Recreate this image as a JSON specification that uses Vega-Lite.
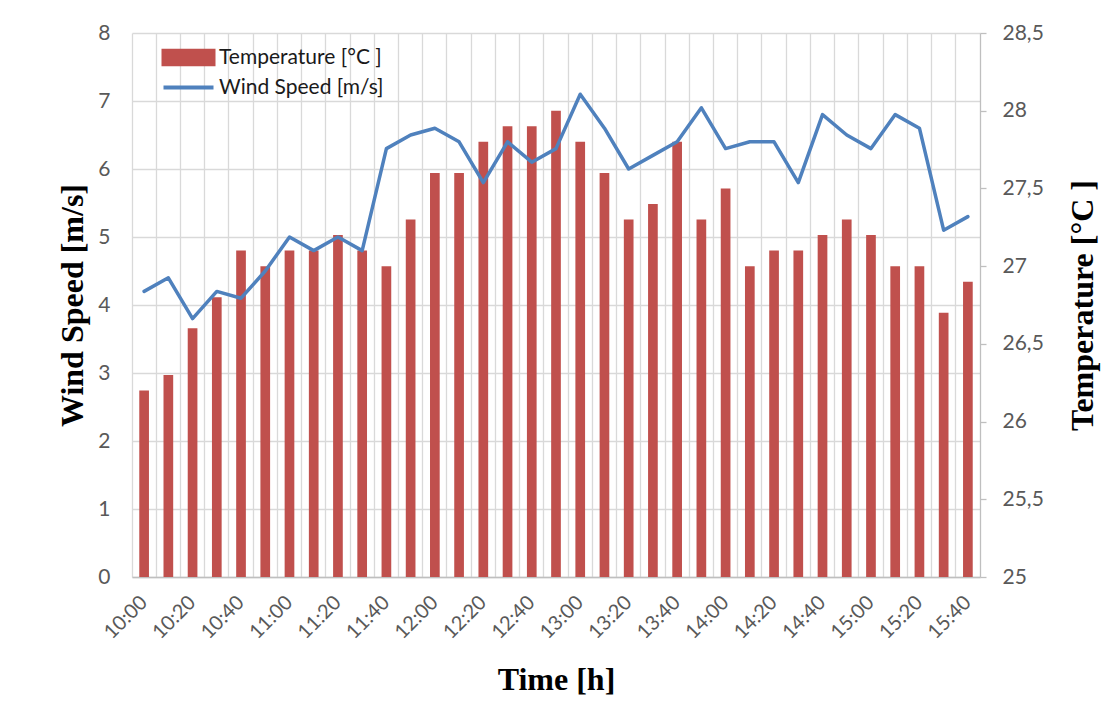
{
  "$schema": "https://vega.github.io/schema/vega-lite/v6.json",
  "width": 848,
  "height": 544,
  "autosize": {"type": "none"},
  "padding": {"left": 132, "top": 33, "right": 131, "bottom": 140},
  "background": "white",
  "config": {"view": {"stroke": null}, "font": "Lato"},
  "data": {
    "values": [
      {"t": "10:00", "temp": 26.2, "wind": 4.2},
      {"t": "10:10", "temp": 26.3, "wind": 4.4},
      {"t": "10:20", "temp": 26.6, "wind": 3.8},
      {"t": "10:30", "temp": 26.8, "wind": 4.2},
      {"t": "10:40", "temp": 27.1, "wind": 4.1},
      {"t": "10:50", "temp": 27.0, "wind": 4.5},
      {"t": "11:00", "temp": 27.1, "wind": 5.0},
      {"t": "11:10", "temp": 27.1, "wind": 4.8},
      {"t": "11:20", "temp": 27.2, "wind": 5.0},
      {"t": "11:30", "temp": 27.1, "wind": 4.8},
      {"t": "11:40", "temp": 27.0, "wind": 6.3},
      {"t": "11:50", "temp": 27.3, "wind": 6.5},
      {"t": "12:00", "temp": 27.6, "wind": 6.6},
      {"t": "12:10", "temp": 27.6, "wind": 6.4},
      {"t": "12:20", "temp": 27.8, "wind": 5.8},
      {"t": "12:30", "temp": 27.9, "wind": 6.4},
      {"t": "12:40", "temp": 27.9, "wind": 6.1},
      {"t": "12:50", "temp": 28.0, "wind": 6.3},
      {"t": "13:00", "temp": 27.8, "wind": 7.1},
      {"t": "13:10", "temp": 27.6, "wind": 6.6},
      {"t": "13:20", "temp": 27.3, "wind": 6.0},
      {"t": "13:30", "temp": 27.4, "wind": 6.2},
      {"t": "13:40", "temp": 27.8, "wind": 6.4},
      {"t": "13:50", "temp": 27.3, "wind": 6.9},
      {"t": "14:00", "temp": 27.5, "wind": 6.3},
      {"t": "14:10", "temp": 27.0, "wind": 6.4},
      {"t": "14:20", "temp": 27.1, "wind": 6.4},
      {"t": "14:30", "temp": 27.1, "wind": 5.8},
      {"t": "14:40", "temp": 27.2, "wind": 6.8},
      {"t": "14:50", "temp": 27.3, "wind": 6.5},
      {"t": "15:00", "temp": 27.2, "wind": 6.3},
      {"t": "15:10", "temp": 27.0, "wind": 6.8},
      {"t": "15:20", "temp": 27.0, "wind": 6.6},
      {"t": "15:30", "temp": 26.7, "wind": 5.1},
      {"t": "15:40", "temp": 26.9, "wind": 5.3}
    ]
  },
  "layer": [
    {
      "mark": {"type": "bar", "width": {"band": 0.4}},
      "encoding": {
        "x": {
          "field": "t",
          "type": "ordinal",
          "sort": null,
          "scale": {"paddingInner": 0, "paddingOuter": 0},
          "axis": {
            "orient": "top",
            "grid": true,
            "bandPosition": 0,
            "gridColor": "#d9d9d9",
            "gridWidth": 1.3,
            "labels": false,
            "ticks": false,
            "domain": false,
            "title": null
          }
        },
        "y": {
          "field": "temp",
          "type": "quantitative",
          "scale": {"domain": [25, 28.5], "zero": false, "nice": false},
          "axis": {
            "orient": "right",
            "values": [25, 25.5, 26, 26.5, 27, 27.5, 28, 28.5],
            "format": "~g",
            "labelExpr": "replace(datum.label, '.', ',')",
            "grid": false,
            "domainColor": "#bfbfbf",
            "domainWidth": 1.3,
            "tickColor": "#bfbfbf",
            "tickWidth": 1.3,
            "tickSize": 6,
            "labelPadding": 16,
            "labelFont": "Lato",
            "labelFontSize": 21,
            "labelColor": "#595959",
            "title": "Temperature [°C ]",
            "titleFont": "Liberation Serif",
            "titleFontSize": 32,
            "titleFontWeight": "bold",
            "titleColor": "#000000",
            "titleAngle": 270,
            "titleBaseline": "top",
            "titlePadding": 24
          }
        },
        "y2": {"datum": 25},
        "color": {
          "datum": "Temperature [°C ]",
          "scale": {
            "domain": ["Temperature [°C ]", "Wind Speed [m/s]"],
            "range": ["#c0504d", "#4f81bd"]
          },
          "legend": {
            "orient": "none",
            "legendX": 42,
            "legendY": 10,
            "title": null,
            "padding": 0,
            "labelFont": "Lato",
            "labelFontSize": 21,
            "labelColor": "#1a1a1a",
            "labelLimit": 400,
            "labelOffset": 16,
            "rowPadding": 0,
            "symbolSize": 625,
            "encode": {
              "symbols": {
                "update": {
                  "shape": {"signal": "datum.value === 'Wind Speed [m/s]' ? 'M-2,0H2' : 'M-2,-0.54H2V0.54H-2Z'"},
                  "fill": {"signal": "datum.value === 'Wind Speed [m/s]' ? 'transparent' : '#c0504d'"},
                  "stroke": {"signal": "datum.value === 'Wind Speed [m/s]' ? '#4f81bd' : 'transparent'"},
                  "strokeWidth": {"value": 4},
                  "opacity": {"value": 1}
                }
              }
            }
          }
        }
      }
    },
    {
      "mark": {"type": "line", "strokeWidth": 3.5, "strokeJoin": "round", "strokeCap": "round"},
      "encoding": {
        "x": {
          "field": "t",
          "type": "ordinal",
          "sort": null,
          "scale": {"paddingInner": 0, "paddingOuter": 0},
          "axis": {
            "orient": "bottom",
            "grid": false,
            "ticks": false,
            "domain": true,
            "domainColor": "#bfbfbf",
            "domainWidth": 1.5,
            "labelAngle": -45,
            "labelAlign": "right",
            "labelBaseline": "middle",
            "labelPadding": 22,
            "labelFont": "Lato",
            "labelFontSize": 20,
            "labelColor": "#595959",
            "labelExpr": "toNumber(substring(datum.label, 3, 4)) % 2 == 0 ? datum.label : ''",
            "title": "Time [h]",
            "titleFont": "Liberation Serif",
            "titleFontSize": 32,
            "titleFontWeight": "bold",
            "titleColor": "#000000",
            "titlePadding": 22
          }
        },
        "y": {
          "field": "wind",
          "type": "quantitative",
          "scale": {"domain": [0, 8], "nice": false},
          "axis": {
            "orient": "left",
            "values": [0, 1, 2, 3, 4, 5, 6, 7, 8],
            "grid": true,
            "gridColor": "#d9d9d9",
            "gridWidth": 1.3,
            "domain": false,
            "ticks": false,
            "labelPadding": 22,
            "labelFont": "Lato",
            "labelFontSize": 21,
            "labelColor": "#595959",
            "title": "Wind Speed [m/s]",
            "titleFont": "Liberation Serif",
            "titleFontSize": 32,
            "titleFontWeight": "bold",
            "titleColor": "#000000",
            "titlePadding": 8
          }
        },
        "color": {"datum": "Wind Speed [m/s]"}
      }
    }
  ],
  "resolve": {"scale": {"y": "independent"}, "axis": {"x": "independent"}}
}
